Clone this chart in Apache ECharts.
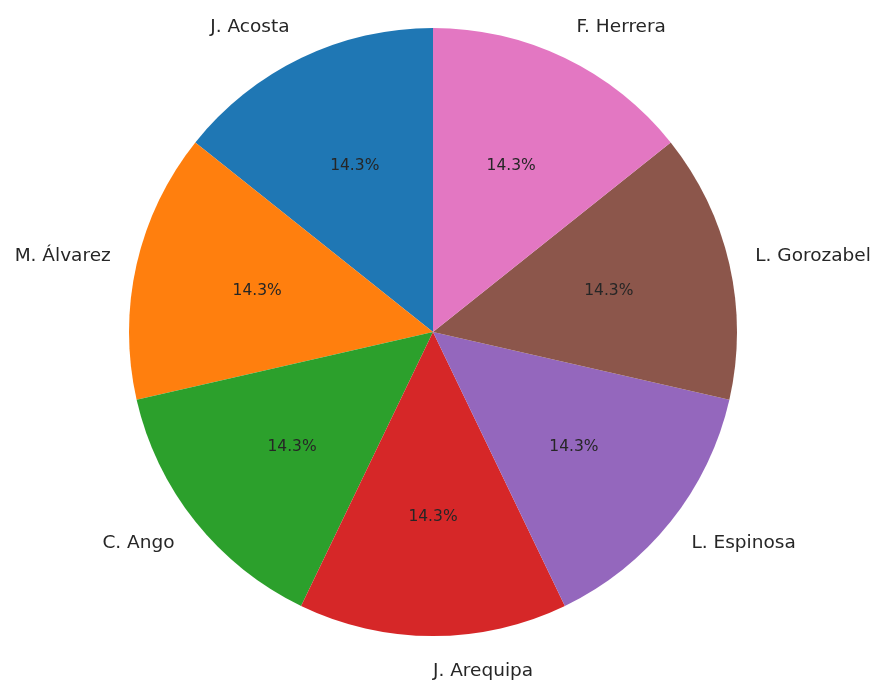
<!DOCTYPE html>
<html>
<head>
<meta charset="utf-8">
<script src="https://cdn.jsdelivr.net/npm/echarts@6/dist/echarts.min.js"></script>
<style>
html,body{margin:0;padding:0;background:#fff;}
#chart{width:875px;height:680px;}
</style>
</head>
<body>
<div id="chart"></div>
<script>
const names = ['J. Acosta','M. Álvarez','C. Ango','J. Arequipa','L. Espinosa','L. Gorozabel','F. Herrera'];
const values = [1,1,1,1,1,1,1];
const colors = ['#1f77b4','#ff7f0e','#2ca02c','#d62728','#9467bd','#8c564b','#e377c2'];

const cx = 433, cy = 332, R = 304, RX = 300.5, RY = 308;
const total = values.reduce((a,b)=>a+b,0);
function midAngle(i){
  let cum = 0;
  for (let k=0;k<i;k++) cum += values[k];
  return (90 + 360*(cum + values[i]/2)/total) * Math.PI/180;
}
function placeAt(frac, alignByX){
  return function(p){
    const a = midAngle(p.dataIndex);
    const c = Math.cos(a), s = Math.sin(a);
    const x = cx + frac*RX*c, y = cy - frac*RY*s;
    return {x: x, y: y, align: alignByX ? (c > -1e-6 ? 'left' : 'right') : 'center', verticalAlign: 'middle'};
  };
}
const data = names.map((n,i)=>({name:n, value:values[i], itemStyle:{color:colors[i]}}));

const chart = echarts.init(document.getElementById('chart'));
chart.setOption({
  animation:false,
  backgroundColor:'#ffffff',
  series:[
    {
      type:'pie', center:[cx,cy], radius:[0,R], startAngle:90, clockwise:false,
      avoidLabelOverlap:false, silent:true,
      data:data,
      itemStyle:{borderWidth:0},
      label:{show:true, position:'inside', formatter:p=>(p.value/total*100).toFixed(1)+'%',
             fontFamily:'DejaVu Sans', fontSize:15.5, color:'#262626'},
      labelLine:{show:false},
      labelLayout:placeAt(0.6,false)
    },
    {
      type:'pie', center:[cx,cy], radius:[0,R], startAngle:90, clockwise:false,
      avoidLabelOverlap:false, silent:true,
      data:names.map((n,i)=>({name:n, value:values[i]})),
      itemStyle:{color:'rgba(0,0,0,0)', borderWidth:0},
      label:{show:true, position:'inside', formatter:'{b}',
             fontFamily:'DejaVu Sans', fontSize:18.5, color:'#262626'},
      labelLine:{show:false},
      labelLayout:placeAt(1.1,true)
    }
  ]
});
</script>
</body>
</html>
